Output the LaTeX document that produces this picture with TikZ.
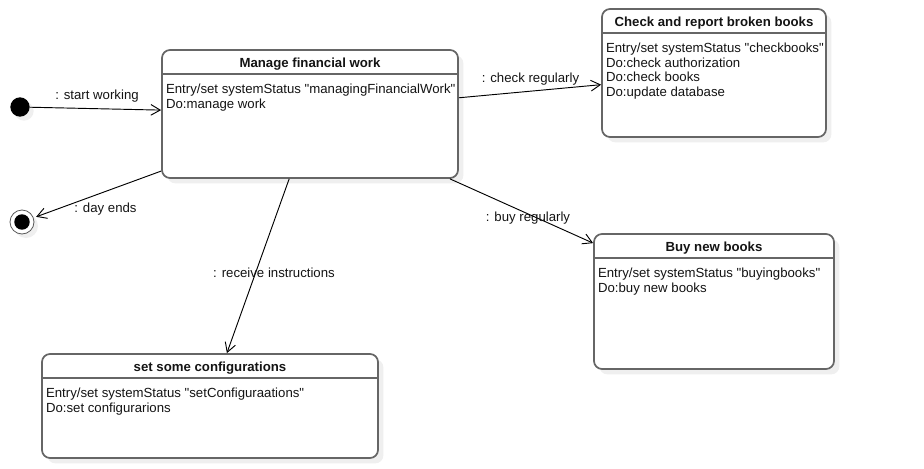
\documentclass[tikz,border=0pt]{standalone}
\usepackage{fontspec}
\setmainfont{Liberation Sans}
\usetikzlibrary{positioning,calc,fit,shadows,arrows.meta}
\newcommand{\qq}{\textquotedbl}
\begin{document}
\begin{tikzpicture}[x=0.75pt, y=-0.75pt,
		every node/.style = {font=\fontsize{9.9}{11.2}\selectfont, text=black!92},
		statebox/.style = {draw=black!60, line width=1.3pt, rounded corners=6pt, fill=white, inner sep=0pt,
			drop shadow={shadow xshift=4pt, shadow yshift=-4pt, opacity=0.13}},
		statetitle/.style = {anchor=north, font=\fontsize{9.9}{11.2}\selectfont\bfseries, minimum height=18.4pt, text height=8.6pt, text depth=0pt, inner sep=0pt},
		statebody/.style = {anchor=north west, align=left, inner xsep=3.5pt, inner ysep=6.8pt},
		sepline/.style = {draw=black!60, line width=1.3pt},
		trans/.style = {-{Straight Barb[length=7pt, width=8pt]}, line width=0.7pt},
		lbl/.style = {inner sep=0pt},
		startdot/.style = {circle, fill=black, minimum size=14.5pt, inner sep=0pt,
			drop shadow={shadow xshift=3pt, shadow yshift=-3pt, opacity=0.13}},
		enddot/.style = {circle, draw=black!65, fill=white, line width=0.6pt, minimum size=18pt, inner sep=0pt,
			path picture={\fill[black] (path picture bounding box.center) circle (5.8pt);},
			drop shadow={shadow xshift=3pt, shadow yshift=-3pt, opacity=0.13}}]
	\useasboundingbox (0,0) rectangle (924,468);

	\node[startdot] (start) at (20,107) {};
	\node[enddot] (end) at (22,222) {};

	\node[statebox, fit={(162,50) (458,178)}] (manage) {};
	\node[statetitle] (managetitle) at (manage.north) {Manage financial work};
	\draw[sepline] (manage.west |- managetitle.south) -- (manage.east |- managetitle.south);
	\node[statebody] (managebody) at (manage.west |- managetitle.south) {Entry/set systemStatus \qq managingFinancialWork\qq\\Do:manage work};

	\node[statebox, fit={(602,9) (826,137)}] (check) {};
	\node[statetitle] (checktitle) at (check.north) {Check and report broken books};
	\draw[sepline] (check.west |- checktitle.south) -- (check.east |- checktitle.south);
	\node[statebody] (checkbody) at (check.west |- checktitle.south) {Entry/set systemStatus \qq checkbooks\qq\\Do:check authorization\\Do:check books\\Do:update database};

	\node[statebox, fit={(594,234) (834,369)}] (buy) {};
	\node[statetitle] (buytitle) at (buy.north) {Buy new books};
	\draw[sepline] (buy.west |- buytitle.south) -- (buy.east |- buytitle.south);
	\node[statebody] (buybody) at (buy.west |- buytitle.south) {Entry/set systemStatus \qq buyingbooks\qq\\Do:buy new books};

	\node[statebox, fit={(42,354) (378,458)}] (config) {};
	\node[statetitle] (configtitle) at (config.north) {set some configurations};
	\draw[sepline] (config.west |- configtitle.south) -- (config.east |- configtitle.south);
	\node[statebody] (configbody) at (config.west |- configtitle.south) {Entry/set systemStatus \qq setConfiguraations\qq\\Do:set configurarions};

	\draw[trans] (start) -- ($(manage.north west)!0.47!(manage.south west)$);
	\draw[trans, shorten >=2pt] ($(manage.north west)!0.94!(manage.south west)$) -- (end);
	\draw[trans] ($(manage.north east)!0.375!(manage.south east)$) -- ($(check.north west)!0.59!(check.south west)$);
	\draw[trans] ($(manage.south west)!0.97!(manage.south east)$) -- ($(buy.north west)+(0,10)$);
	\draw[trans] ($(manage.south west)!0.43!(manage.south east)$) -- ($(config.north west)!0.55!(config.north east)$);

	\node[lbl] (startlbl) at (97,96) {: start working};
	\node[lbl] (endlbl) at (105.5,209) {: day ends};
	\node[lbl] (checklbl) at (530.5,79) {: check regularly};
	\node[lbl] (buylbl) at (528,218) {: buy regularly};
	\node[lbl] (configlbl) at (274,273) {: receive instructions};
\end{tikzpicture}
\end{document}
